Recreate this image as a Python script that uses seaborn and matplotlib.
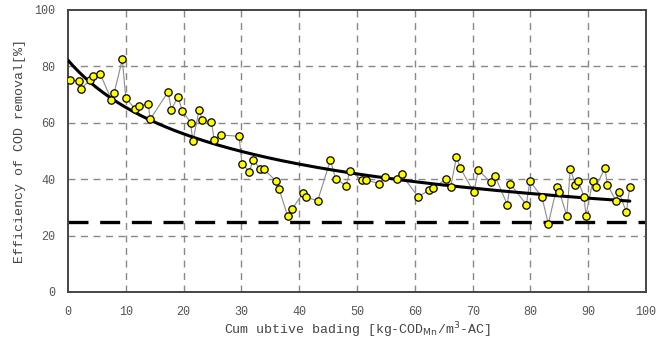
import numpy as np
import pandas as pd
import matplotlib
matplotlib.use("Agg")
import matplotlib.pyplot as plt
import seaborn as sns

# ---- data ----
loading = [0.3, 1.9, 2.3, 3.8, 4.3, 5.6, 7.5, 8.0, 9.4, 10.0, 11.6, 12.3, 13.9, 14.2,
           17.3, 17.9, 19.0, 19.8, 21.2, 21.6, 22.7, 23.2, 24.8, 25.3, 26.4, 29.6,
           30.1, 31.4, 32.0, 33.3, 33.9, 35.9, 36.5, 38.0, 38.8, 40.7, 41.1, 43.2,
           45.4, 46.3, 48.1, 48.8, 50.8, 51.6, 53.8, 54.8, 56.9, 57.7, 60.6, 62.4,
           63.1, 65.4, 66.2, 67.2, 67.9, 70.2, 71.0, 73.1, 73.9, 76.0, 76.5, 79.3,
           79.9, 82.0, 83.1, 84.6, 85.0, 86.3, 86.9, 87.8, 88.3, 89.3, 89.6, 90.8,
           91.3, 92.9, 93.3, 94.8, 95.3, 96.6, 97.2]
efficiency = [75.2, 74.8, 72.1, 75.2, 76.7, 77.2, 68.2, 70.7, 82.5, 68.7, 65.0, 66.1,
              66.8, 61.2, 70.9, 64.7, 69.2, 64.2, 60.1, 53.4, 64.7, 61.1, 60.3, 54.0,
              55.7, 55.2, 45.4, 42.7, 46.8, 43.6, 43.6, 39.5, 36.6, 27.0, 29.5, 35.2,
              33.6, 32.4, 46.8, 40.1, 37.7, 43.0, 39.8, 39.8, 38.4, 40.9, 40.0, 41.7,
              33.7, 36.1, 36.8, 40.0, 37.2, 47.8, 43.9, 35.4, 43.2, 39.0, 41.0, 31.0,
              38.4, 31.0, 39.4, 33.6, 24.2, 37.4, 35.6, 27.1, 43.6, 38.1, 39.4, 33.6,
              27.1, 39.4, 37.3, 43.9, 38.1, 32.4, 35.5, 28.3, 37.3]
threshold = 25
x_ticks = [0, 10, 20, 30, 40, 50, 60, 70, 80, 90, 100]
y_ticks = [0, 20, 40, 60, 80, 100]

df = pd.DataFrame({"x": loading, "y": efficiency})

# trend line: least-squares fit of y = a*(1+x/k)^-p to the data
xa = np.asarray(loading)
ya = np.asarray(efficiency)
best = None
for k in np.linspace(5, 80, 151):
    lx = np.log1p(xa / k)
    coef = np.polyfit(lx, np.log(ya), 1)
    sse = np.sum((np.exp(np.polyval(coef, lx)) - ya) ** 2)
    if best is None or sse < best[0]:
        best = (sse, k, coef)
_, kb, cb = best
xt = np.linspace(0, max(loading), 200)
trend = pd.DataFrame({"x": xt, "y": np.exp(np.polyval(cb, np.log1p(xt / kb)))})

sns.set_theme(style="white")
plt.rcParams["font.family"] = ["Liberation Mono", "DejaVu Sans"]

fig = plt.figure(figsize=(6.68, 3.46), dpi=100)
ax = fig.add_axes([68 / 668, 1 - 292 / 346, (646 - 68) / 668, (292 - 10) / 346])

for v in x_ticks[1:-1]:
    ax.axvline(v, color="#888888", lw=1.0, ls=(0, (5, 4)), zorder=1)
for v in y_ticks[1:-1]:
    ax.axhline(v, color="#888888", lw=1.0, ls=(0, (5, 4)), zorder=1)

ax.axhline(threshold, color="black", lw=2.4, ls=(0, (6, 3.5)), zorder=2)

sns.lineplot(data=df, x="x", y="y", ax=ax, color="#8c8c8c", lw=0.8,
             sort=True, estimator=None, zorder=3)
sns.lineplot(data=trend, x="x", y="y", ax=ax, color="black", lw=2.2,
             estimator=None, zorder=4)
sns.scatterplot(data=df, x="x", y="y", ax=ax, color="#ffff00", edgecolor="black",
                linewidth=0.9, s=28, zorder=5)

ax.set_xlim(0, 100)
ax.set_ylim(0, 100)
ax.set_xticks(x_ticks)
ax.set_yticks(y_ticks)
ax.tick_params(axis="both", length=0, labelsize=8.5, colors="#555555")
ax.tick_params(axis="x", pad=10)
ax.tick_params(axis="y", pad=9)
for s in ax.spines.values():
    s.set_color("#444444")
    s.set_linewidth(1.4)

ax.set_xlabel("Cum ubtive bading [kg-COD$_{\\mathrm{Mn}}$/m$^{3}$-AC]",
              fontsize=9.5, color="#444444", labelpad=2)
ax.set_ylabel("Efficiency of COD removal[%]", fontsize=9.5, color="#444444",
              labelpad=6)

fig.savefig("out.png", dpi=100)
